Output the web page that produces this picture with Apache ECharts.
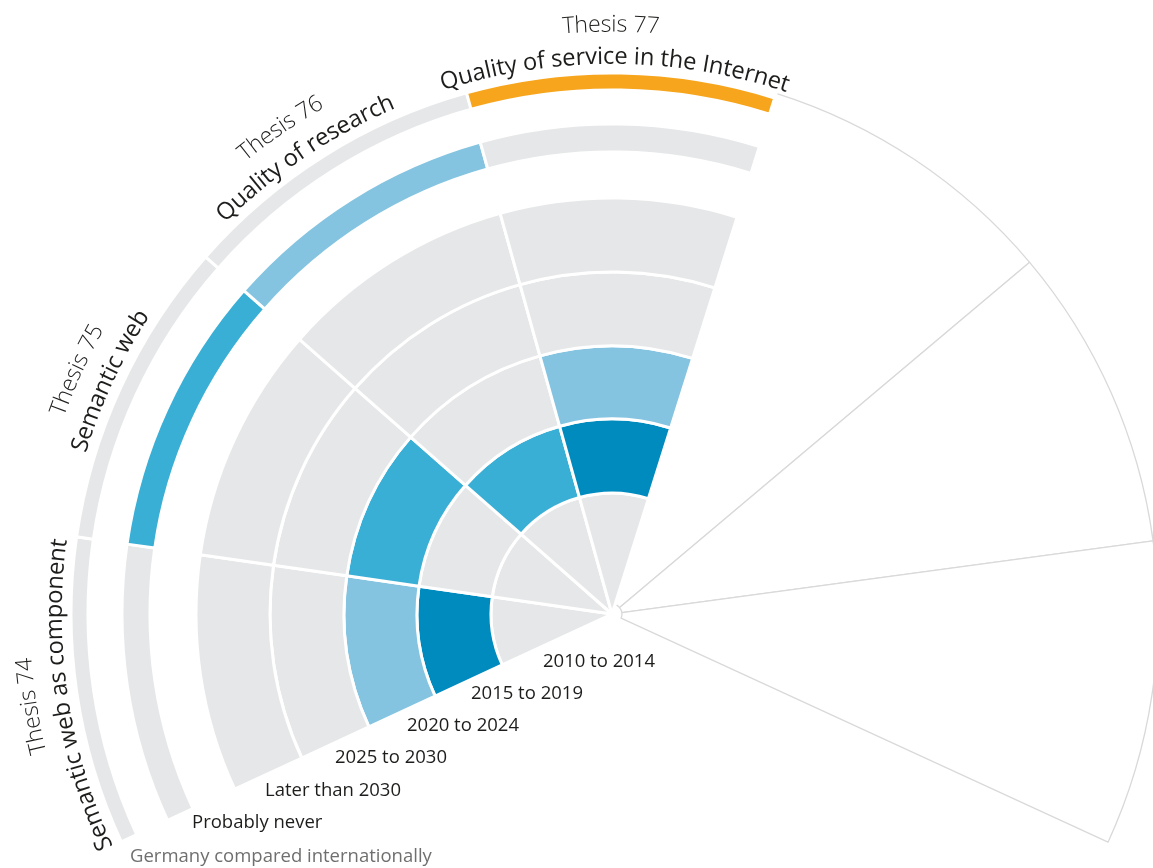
<!DOCTYPE html>
<html>
<head>
<meta charset="utf-8">
<script src="https://cdn.jsdelivr.net/npm/echarts@6/dist/echarts.min.js"></script>
<style>
  html, body { margin: 0; padding: 0; background: #fff; }
  #chart { width: 1153px; height: 868px; }
</style>
</head>
<body>
<div id="chart"></div>
<script>
// Data
const theses = ["Thesis 74", "Thesis 75", "Thesis 76", "Thesis 77"]
const topics = ["Semantic web as component", "Semantic web", "Quality of research", "Quality of service in the Internet"]
const rings = ["2010 to 2014", "2015 to 2019", "2020 to 2024", "2025 to 2030", "Later than 2030", "Probably never", "Germany compared internationally"]
// colour level per ring: 0 none, 1 light, 2 medium, 3 dark, 4 highlighted
const thesis74 = [0, 3, 1, 0, 0, 0, 0]
const thesis75 = [0, 0, 2, 0, 0, 2, 0]
const thesis76 = [0, 2, 0, 0, 0, 1, 0]
const thesis77 = [0, 3, 1, 0, 0, 0, 4]
const emptySectors = 3

// Layout
const cx = 612
const cy = 614
const startAngle = 204.9
const thesisSpan = 33.1
const emptySpan = 32.4
const ringRadius = [[0, 121], [121, 195], [195, 268], [268, 342], [342, 416], [462, 490], [524, 541]]
const outlineRadius = [10, 546]
const titleAngle = [189.0, 155.5, 124.3, 90.1]
const levelColors = ["#e6e7e8", "#84c4e1", "#3aafd6", "#008bbf", "#f7a51d"]
const ringLabelPos = [[543, 662], [471, 694], [407, 726], [335, 758], [265, 791], [192, 823], [130, 857]]
const fontFamily = '"Open Sans", "Noto Sans", sans-serif'

const levels = [thesis74, thesis75, thesis76, thesis77]
const hidden = { color: "rgba(0,0,0,0)", borderWidth: 0 }
const restSpan = 360 - theses.length * thesisSpan - emptySectors * emptySpan

// one pie = one ring; slots: the theses, the empty sectors, then the unused rest
function slots(thesisStyle, emptyStyle) {
  const data = theses.map((t, i) => ({ name: t, value: thesisSpan, itemStyle: thesisStyle(i) }))
  for (let j = 0; j < emptySectors; j++) {
    data.push({ value: emptySpan, itemStyle: emptyStyle(j) })
  }
  data.push({ value: restSpan, itemStyle: hidden })
  return data
}

function pie(radius, z, data) {
  return {
    type: "pie",
    silent: true,
    center: [cx, cy],
    radius: radius,
    startAngle: startAngle,
    clockwise: true,
    label: { show: false },
    labelLine: { show: false },
    z: z,
    data: data,
  }
}

const series = []

// faint outline of the unused sectors
series.push(pie(outlineRadius, 1, slots(
  () => hidden,
  () => ({ color: "#fff", borderColor: "#d9d9d9", borderWidth: 1.3 })
)))
// hide the outline edge running along the last thesis
series.push(pie(outlineRadius, 2, slots(
  (i) => (i === theses.length - 1 ? { color: "#fff", borderColor: "#fff", borderWidth: 3 } : hidden),
  () => hidden
)))

rings.forEach((ring, k) => {
  const s = pie(ringRadius[k], 3, slots(
    (i) => ({ color: levelColors[levels[i][k]], borderColor: "#fff", borderWidth: 3 }),
    () => hidden
  ))
  s.name = ring
  series.push(s)
})

// text bent along an arc, centred on angle midDeg
const measure = document.createElement("canvas").getContext("2d")
function arcText(str, midDeg, r, size, weight, color) {
  const font = weight + " " + size + "px " + fontFamily
  measure.font = font
  const total = measure.measureText(str).width
  const start = (midDeg * Math.PI) / 180 + total / r / 2
  let acc = 0
  const out = []
  for (const ch of str) {
    const w = measure.measureText(ch).width
    const a = start - (acc + w / 2) / r
    acc += w
    out.push({
      type: "text",
      x: cx + r * Math.cos(a),
      y: cy - r * Math.sin(a),
      rotation: a - Math.PI / 2,
      silent: true,
      z: 20,
      style: {
        text: ch,
        font: font,
        fill: color,
        align: "center",
        verticalAlign: "middle",
        textAlign: "center",
        textVerticalAlign: "middle",
      },
    })
  }
  return out
}

const graphics = []
theses.forEach((t, i) => {
  graphics.push(...arcText(t, titleAngle[i], 589, 23, 300, "#1d1d1b"))
  graphics.push(...arcText(topics[i], titleAngle[i] - 0.4, 557, 23.7, "normal", "#1d1d1b"))
})

rings.forEach((ring, k) => {
  graphics.push({
    type: "text",
    x: ringLabelPos[k][0],
    y: ringLabelPos[k][1],
    silent: true,
    z: 20,
    style: {
      text: ring,
      font: "normal 18.5px " + fontFamily,
      fill: k === rings.length - 1 ? "#6f6f6e" : "#1d1d1b",
      align: "left",
      verticalAlign: "middle",
      textAlign: "left",
      textVerticalAlign: "middle",
    },
  })
})

const chart = echarts.init(document.getElementById("chart"))
chart.setOption({
  animation: false,
  series: series,
  graphic: { elements: graphics },
})
</script>
</body>
</html>
